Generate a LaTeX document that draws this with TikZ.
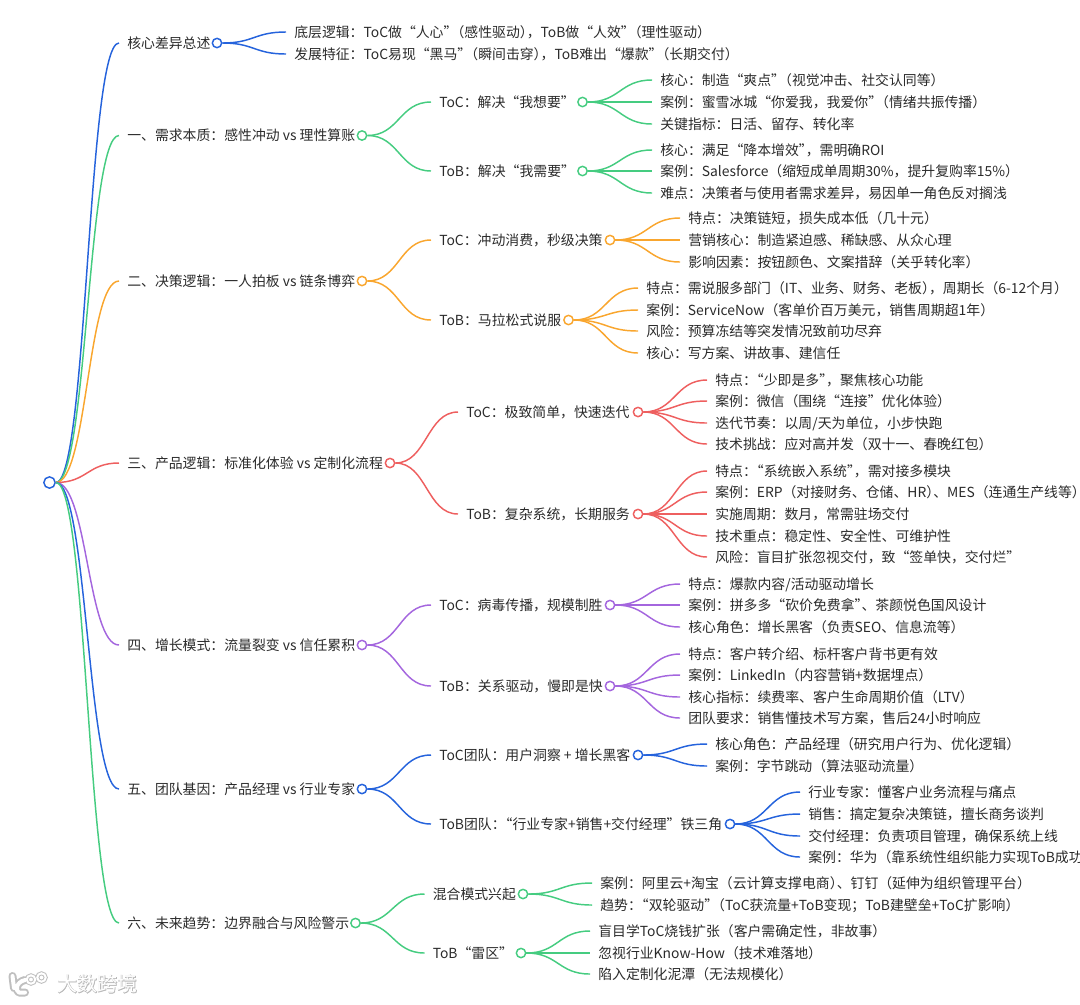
\documentclass[tikz,border=0pt]{standalone}
\usepackage{fontspec}
\setmainfont{Noto Sans CJK SC}
\usetikzlibrary{calc}
\definecolor{cblue}{HTML}{2563DC}
\definecolor{cgreen}{HTML}{45CC80}
\definecolor{corange}{HTML}{F9A62E}
\definecolor{cred}{HTML}{EE5F5F}
\definecolor{cpurple}{HTML}{A466DE}
\definecolor{ctext}{HTML}{2A2A2A}
\newfontfamily\wmglow[FakeBold=3]{Noto Sans CJK SC}
% collapse adjacent full-width punctuation, as the reference does
\XeTeXinterchartokenstate=1
\newXeTeXintercharclass\cpOpen
\newXeTeXintercharclass\cpClose
\XeTeXcharclass`“=\cpOpen
\XeTeXcharclass`（=\cpOpen
\XeTeXcharclass`”=\cpClose
\XeTeXcharclass`）=\cpClose
\XeTeXcharclass`：=\cpClose
\XeTeXcharclass`，=\cpClose
\XeTeXcharclass`、=\cpClose
\XeTeXcharclass`；=\cpClose
\XeTeXinterchartoks\cpClose\cpOpen={\kern-.5em }
\XeTeXinterchartoks\cpClose\cpClose={\kern-.5em }
\XeTeXinterchartoks\cpOpen\cpOpen={\kern-.5em }
\tikzset{
  lbl/.style={anchor=west,inner xsep=6pt,inner ysep=0pt,text height=10.5pt,text depth=2.4pt,font=\fontsize{10.4pt}{12pt}\selectfont,text=ctext},
  dotn/.style={circle,draw=#1,fill=white,line width=1.1pt,minimum size=7pt,inner sep=0pt},
  rootn/.style={circle,draw=#1,fill=white,line width=1.1pt,minimum size=8.5pt,inner sep=0pt},
  link/.style={draw=#1,line width=1.1pt,to path={let \p1=(\tikztostart),\p2=(\tikztotarget),\n1={0.5*(\x2-\x1)} in .. controls (\x1+\n1,\y1) and (\x2-\n1,\y2) .. (\tikztotarget)}},
  wmg/.style={font=\wmglow\fontsize{15pt}{18pt}\selectfont,text=black!28,inner sep=0pt},
  wmf/.style={font=\fontsize{15pt}{18pt}\selectfont,text=white,inner sep=0pt},
}
% name, line-end x, y, text
\newcommand\tn[4]{\node[lbl] (#1) at (#2,#3) {#4};}
% colour, name, x, y
\newcommand\dn[4]{\node[dotn=#1] (#2) at (#3,#4) {};}
% colour, from-dot, to-text
\newcommand\lk[3]{\draw[link=#1] (#2.east) to (#3.west);}
\begin{document}
\begin{tikzpicture}[x=0.75pt,y=-0.75pt]
\useasboundingbox (0,0) rectangle (1080,1004);

% --- texts
\tn{a}{119}{43}{核心差异总述}
\tn{aa}{286}{32}{底层逻辑：ToC做“人心”（感性驱动），ToB做“人效”（理性驱动）}
\tn{ab}{286}{54}{发展特征：ToC易现“黑马”（瞬间击穿），ToB难出“爆款”（长期交付）}

\tn{b}{119}{135.5}{一、需求本质：感性冲动 vs 理性算账}
\tn{ba}{431}{102}{ToC：解决“我想要”}
\tn{baa}{652}{80}{核心：制造“爽点”（视觉冲击、社交认同等）}
\tn{bab}{652}{102}{案例：蜜雪冰城“你爱我，我爱你”（情绪共振传播）}
\tn{bac}{652}{124}{关键指标：日活、留存、转化率}
\tn{bb}{431}{171}{ToB：解决“我需要”}
\tn{bba}{652}{150}{核心：满足“降本增效”，需明确ROI}
\tn{bbb}{652}{171}{案例：Salesforce（缩短成单周期30\%，提升复购率15\%）}
\tn{bbc}{652}{193}{难点：决策者与使用者需求差异，易因单一角色反对搁浅}

\tn{c}{119}{281}{二、决策逻辑：一人拍板 vs 链条博弈}
\tn{ca}{431}{240}{ToC：冲动消费，秒级决策}
\tn{caa}{680}{218}{特点：决策链短，损失成本低（几十元）}
\tn{cab}{680}{240}{营销核心：制造紧迫感、稀缺感、从众心理}
\tn{cac}{680}{262}{影响因素：按钮颜色、文案措辞（关乎转化率）}
\tn{cb}{431}{320}{ToB：马拉松式说服}
\tn{cba}{638}{288}{特点：需说服多部门（IT、业务、财务、老板），周期长（6-12个月）}
\tn{cbb}{638}{310}{案例：ServiceNow（客单价百万美元，销售周期超1年）}
\tn{cbc}{638}{331}{风险：预算冻结等突发情况致前功尽弃}
\tn{cbd}{638}{353}{核心：写方案、讲故事、建信任}

\tn{d}{119}{463}{三、产品逻辑：标准化体验 vs 定制化流程}
\tn{da}{458}{412}{ToC：极致简单，快速迭代}
\tn{daa}{707}{380}{特点：“少即是多”，聚焦核心功能}
\tn{dab}{707}{401}{案例：微信（围绕“连接”优化体验）}
\tn{dac}{707}{423}{迭代节奏：以周/天为单位，小步快跑}
\tn{dad}{707}{444}{技术挑战：应对高并发（双十一、春晚红包）}
\tn{db}{458}{514}{ToB：复杂系统，长期服务}
\tn{dba}{707}{471}{特点：“系统嵌入系统”，需对接多模块}
\tn{dbb}{707}{492}{案例：ERP（对接财务、仓储、HR）、MES（连通生产线等）}
\tn{dbc}{707}{514}{实施周期：数月，常需驻场交付}
\tn{dbd}{707}{536}{技术重点：稳定性、安全性、可维护性}
\tn{dbe}{707}{557}{风险：盲目扩张忽视交付，致“签单快，交付烂”}

\tn{e}{119}{645}{四、增长模式：流量裂变 vs 信任累积}
\tn{ea}{431}{605}{ToC：病毒传播，规模制胜}
\tn{eaa}{680}{584}{特点：爆款内容/活动驱动增长}
\tn{eab}{680}{605}{案例：拼多多“砍价免费拿”、茶颜悦色国风设计}
\tn{eac}{680}{627}{核心角色：增长黑客（负责SEO、信息流等）}
\tn{eb}{431}{686}{ToB：关系驱动，慢即是快}
\tn{eba}{680}{654}{特点：客户转介绍、标杆客户背书更有效}
\tn{ebb}{680}{675}{案例：LinkedIn（内容营销+数据埋点）}
\tn{ebc}{680}{697}{核心指标：续费率、客户生命周期价值（LTV）}
\tn{ebd}{680}{718}{团队要求：销售懂技术写方案，售后24小时响应}

\tn{f}{119}{789}{五、团队基因：产品经理 vs 行业专家}
\tn{fa}{431}{755}{ToC团队：用户洞察 + 增长黑客}
\tn{faa}{707}{744}{核心角色：产品经理（研究用户行为、优化逻辑）}
\tn{fab}{707}{766}{案例：字节跳动（算法驱动流量）}
\tn{fb}{431}{824}{ToB团队：“行业专家+销售+交付经理”铁三角}
\tn{fba}{800}{792}{行业专家：懂客户业务流程与痛点}
\tn{fbb}{800}{814}{销售：搞定复杂决策链，擅长商务谈判}
\tn{fbc}{800}{836}{交付经理：负责项目管理，确保系统上线}
\tn{fbd}{800}{857}{案例：华为（靠系统性组织能力实现ToB成功}

\tn{g}{119}{923}{六、未来趋势：边界融合与风险警示}
\tn{ga}{424.5}{894}{混合模式兴起}
\tn{gaa}{592}{883}{案例：阿里云+淘宝（云计算支撑电商）、钉钉（延伸为组织管理平台）}
\tn{gab}{592}{905}{趋势：“双轮驱动”（ToC获流量+ToB变现；ToB建壁垒+ToC扩影响）}
\tn{gb}{424.5}{953}{ToB“雷区”}
\tn{gba}{590}{931}{盲目学ToC烧钱扩张（客户需确定性，非故事）}
\tn{gbb}{590}{953}{忽视行业Know-How（技术难落地）}
\tn{gbc}{590}{974}{陷入定制化泥潭（无法规模化）}

% --- dots
\node[rootn=cblue] (root) at (49.5,482.5) {};
\dn{cblue}{ad}{217}{43}
\dn{cgreen}{bd}{362}{135.5}
\dn{cgreen}{bad}{582.5}{102}
\dn{cgreen}{bbd}{582.5}{171}
\dn{corange}{cd}{362}{281}
\dn{corange}{cad}{610}{240}
\dn{corange}{cbd2}{568.5}{320}
\dn{cred}{dd}{390}{463}
\dn{cred}{dad2}{638}{412}
\dn{cred}{dbd2}{638}{514}
\dn{cpurple}{ed}{362}{645}
\dn{cpurple}{ead}{610}{605}
\dn{cpurple}{ebd2}{610}{686}
\dn{cblue}{fd}{362}{789}
\dn{cblue}{fad}{638}{755}
\dn{cblue}{fbd2}{730}{824}
\dn{cgreen}{gd}{355.5}{923}
\dn{cgreen}{gad}{523}{894}
\dn{cgreen}{gbd2}{521}{953}

% --- connectors
\lk{cblue}{root}{a} \lk{cgreen}{root}{b} \lk{corange}{root}{c} \lk{cred}{root}{d}
\lk{cpurple}{root}{e} \lk{cblue}{root}{f} \lk{cgreen}{root}{g}
\lk{cblue}{ad}{aa} \lk{cblue}{ad}{ab}
\lk{cgreen}{bd}{ba} \lk{cgreen}{bd}{bb}
\lk{cgreen}{bad}{baa} \lk{cgreen}{bad}{bab} \lk{cgreen}{bad}{bac}
\lk{cgreen}{bbd}{bba} \lk{cgreen}{bbd}{bbb} \lk{cgreen}{bbd}{bbc}
\lk{corange}{cd}{ca} \lk{corange}{cd}{cb}
\lk{corange}{cad}{caa} \lk{corange}{cad}{cab} \lk{corange}{cad}{cac}
\lk{corange}{cbd2}{cba} \lk{corange}{cbd2}{cbb} \lk{corange}{cbd2}{cbc} \lk{corange}{cbd2}{cbd}
\lk{cred}{dd}{da} \lk{cred}{dd}{db}
\lk{cred}{dad2}{daa} \lk{cred}{dad2}{dab} \lk{cred}{dad2}{dac} \lk{cred}{dad2}{dad}
\lk{cred}{dbd2}{dba} \lk{cred}{dbd2}{dbb} \lk{cred}{dbd2}{dbc} \lk{cred}{dbd2}{dbd} \lk{cred}{dbd2}{dbe}
\lk{cpurple}{ed}{ea} \lk{cpurple}{ed}{eb}
\lk{cpurple}{ead}{eaa} \lk{cpurple}{ead}{eab} \lk{cpurple}{ead}{eac}
\lk{cpurple}{ebd2}{eba} \lk{cpurple}{ebd2}{ebb} \lk{cpurple}{ebd2}{ebc} \lk{cpurple}{ebd2}{ebd}
\lk{cblue}{fd}{fa} \lk{cblue}{fd}{fb}
\lk{cblue}{fad}{faa} \lk{cblue}{fad}{fab}
\lk{cblue}{fbd2}{fba} \lk{cblue}{fbd2}{fbb} \lk{cblue}{fbd2}{fbc} \lk{cblue}{fbd2}{fbd}
\lk{cgreen}{gd}{ga} \lk{cgreen}{gd}{gb}
\lk{cgreen}{gad}{gaa} \lk{cgreen}{gad}{gab}
\lk{cgreen}{gbd2}{gba} \lk{cgreen}{gbd2}{gbb} \lk{cgreen}{gbd2}{gbc}

% --- watermark
\foreach \w/\c in {6/black!25,3/white}{
  \draw[line width=\w pt,\c,line cap=round,line join=round]
    (12.5,976) -- (14,988)
    (25,980) .. controls (16,982) and (15,991) .. (19,992.5) -- (25,992.5);
  \draw[line width=\w*0.5 pt,\c] (31,979.5) circle (4.2) (41.5,977.5) circle (4.2);
}
\node[wmg] (wm1) at (97.5,984) {大数跨境};
\node[wmf] (wm2) at (97.5,984) {大数跨境};
\end{tikzpicture}
\end{document}
